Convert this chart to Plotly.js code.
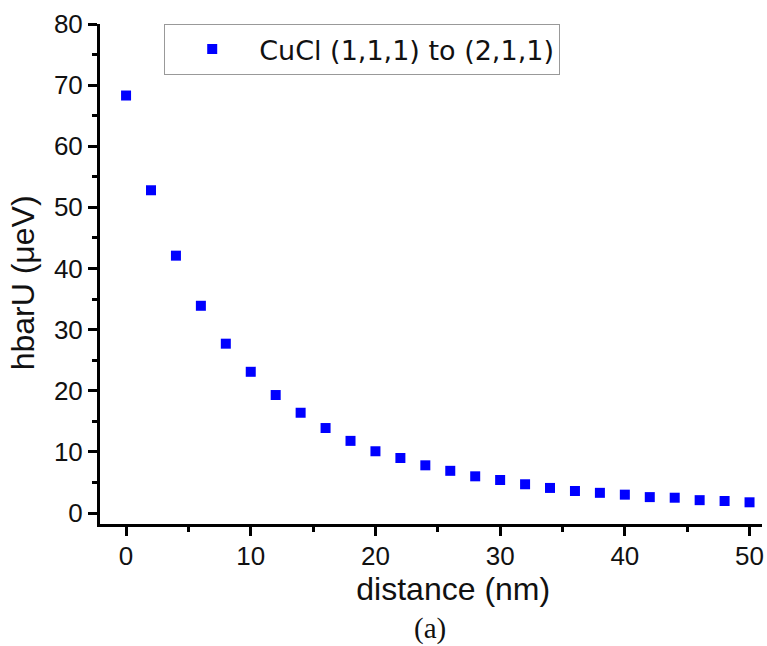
<!DOCTYPE html>
<html>
<head>
<meta charset="utf-8">
<script src="https://cdn.plot.ly/plotly-3.0.1.min.js"></script>
<style>
html,body{margin:0;padding:0;background:#fff;}
#chart{width:767px;height:646px;}
</style>
</head>
<body>
<div id="chart"></div>
<script>
// Data
const distanceNm = [0, 2, 4, 6, 8, 10, 12, 14, 16, 18, 20, 22, 24, 26, 28, 30, 32, 34, 36, 38, 40, 42, 44, 46, 48, 50];
const hbarU = [68.3, 52.8, 42.1, 33.9, 27.7, 23.1, 19.3, 16.4, 13.9, 11.8, 10.1, 9.0, 7.8, 6.9, 6.0, 5.4, 4.7, 4.1, 3.6, 3.3, 3.0, 2.6, 2.5, 2.1, 1.96, 1.75];
const seriesName = "CuCl (1,1,1) to (2,1,1)";
const xTickVals = [0, 10, 20, 30, 40, 50];
const yTickVals = [0, 10, 20, 30, 40, 50, 60, 70, 80];
const xTitle = 'distance (nm)';
const yTitle = 'hbarU (\u03BCeV)';
const panelLabel = '(a)';

// padding that survives string trimming (zero-width space + no-break spaces)
function padLeft(n) { return '\u200B' + '\u00A0'.repeat(n); }
function padRight(n) { return '\u00A0'.repeat(n) + '\u200B'; }

const trace = {
  x: distanceNm,
  y: hbarU,
  type: 'scatter',
  mode: 'markers',
  name: seriesName,
  marker: {symbol: 'square', size: 10, color: '#0000FF', line: {width: 0}}
};

const axisCommon = {
  showline: true,
  linecolor: '#000',
  linewidth: 3,
  ticks: 'outside',
  ticklen: 9,
  tickwidth: 3,
  tickcolor: '#000',
  showgrid: false,
  zeroline: false,
  automargin: false,
  tickfont: {family: 'Liberation Sans, Arial, sans-serif', size: 26, color: '#111'},
  minor: {ticks: 'outside', ticklen: 5, tickwidth: 3, tickcolor: '#000', dtick: 5, showgrid: false}
};

const layout = {
  width: 767,
  height: 646,
  paper_bgcolor: '#fff',
  plot_bgcolor: '#fff',
  margin: {l: 100, r: 5, t: 24, b: 122},
  showlegend: true,
  legend: {
    x: 0.097, y: 1, xanchor: 'left', yanchor: 'top',
    bordercolor: '#999', borderwidth: 1, bgcolor: '#fff',
    itemwidth: 84,
    font: {family: 'DejaVu Sans, Verdana, sans-serif', size: 27, color: '#111'}
  },
  xaxis: Object.assign({}, axisCommon, {
    range: [-2.09, 51.0],
    tickvals: xTickVals,
    ticklabelstandoff: -2,
    title: {text: padLeft(5) + xTitle, font: {family: 'Liberation Sans, Arial, sans-serif', size: 32, color: '#111'}, standoff: 0}
  }),
  yaxis: Object.assign({}, axisCommon, {
    range: [-1.8, 80],
    tickvals: yTickVals,
    title: {text: yTitle + padRight(2), font: {family: 'Liberation Sans, Arial, sans-serif', size: 32, color: '#111'}, standoff: 10}
  }),
  annotations: [{
    text: panelLabel, xref: 'paper', yref: 'paper', x: 0.499, y: -0.209,
    xanchor: 'center', yanchor: 'middle', showarrow: false,
    font: {family: 'Liberation Serif, Times New Roman, serif', size: 29, color: '#111'}
  }]
};

Plotly.newPlot('chart', [trace], layout, {displayModeBar: false, staticPlot: true});
</script>
</body>
</html>
